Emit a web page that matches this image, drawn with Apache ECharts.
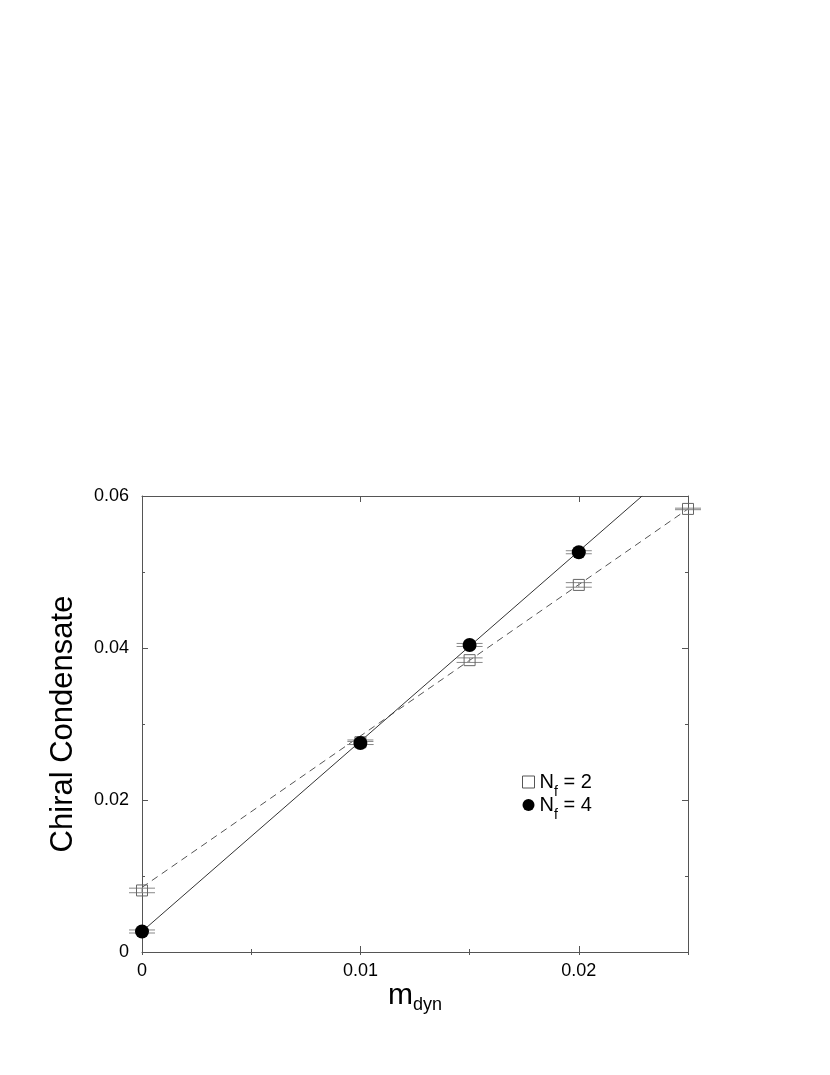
<!DOCTYPE html>
<html>
<head>
<meta charset="utf-8">
<script src="https://cdn.jsdelivr.net/npm/echarts@6/dist/echarts.min.js"></script>
<style>
  html, body { margin: 0; padding: 0; background: #fff; }
  #chart { width: 830px; height: 1075px; }
</style>
</head>
<body>
<div id="chart"></div>
<script>
// data
var x2 = [0, 0.01, 0.015, 0.02, 0.025];
var y2 = [0.0081, 0.0276, 0.0384, 0.0483, 0.0583];
var e2 = [0.0003, 0.0003, 0.0003, 0.0003, 0.0001];
var x4 = [0, 0.01, 0.015, 0.02];
var y4 = [0.0027, 0.0275, 0.0404, 0.0526];
var e4 = [0.0002, 0.0002, 0.0002, 0.0002];
// fit lines
var fit2X = [0, 0.025];
var fit2Y = [0.0085, 0.0583];
var fit4X = [0, 0.0229];
var fit4Y = [0.0027, 0.06];

var font = "'Liberation Sans', Arial, sans-serif";
var frame = '#555';

function pts(xs, ys) {
  return xs.map(function (x, i) { return [x, ys[i]]; });
}
function errPts(xs, ys, es) {
  return xs.map(function (x, i) { return [x, ys[i], es[i]]; });
}

// error bars: caps drawn through the library's scales
function errBar(params, api) {
  var x = api.value(0), y = api.value(1), e = api.value(2);
  var hi = api.coord([x, y + e]);
  var lo = api.coord([x, y - e]);
  var w = 13;
  var st = { stroke: '#888', lineWidth: 1 };
  return {
    type: 'group',
    children: [
      { type: 'line', shape: { x1: hi[0] - w, y1: hi[1], x2: hi[0] + w, y2: hi[1] }, style: st },
      { type: 'line', shape: { x1: lo[0] - w, y1: lo[1], x2: lo[0] + w, y2: lo[1] }, style: st },
      { type: 'line', shape: { x1: hi[0], y1: hi[1], x2: lo[0], y2: lo[1] }, style: st }
    ]
  };
}

var myChart = echarts.init(document.getElementById('chart'));

var xBase = {
  type: 'value', min: 0, max: 0.025, gridIndex: 0,
  axisLine: { show: true, onZero: false, lineStyle: { color: frame, width: 1 } },
  splitLine: { show: false }
};
var yBase = {
  type: 'value', min: 0, max: 0.06, interval: 0.02,
  axisLine: { show: true, onZero: false, lineStyle: { color: frame, width: 1 } },
  axisTick: { show: true, inside: true, length: 6, lineStyle: { color: frame } },
  minorTick: { show: true, splitNumber: 2, length: 3, lineStyle: { color: frame } },
  splitLine: { show: false }
};

var option = {
  animation: false,
  backgroundColor: '#fff',
  textStyle: { fontFamily: font },
  grid: { left: 142, right: 142, top: 496, bottom: 123 },
  xAxis: [
    Object.assign({}, xBase, {
      position: 'bottom', interval: 0.01,
      axisTick: { show: true, inside: true, length: 6, lineStyle: { color: frame } },
      axisLabel: {
        show: true, margin: 10, color: '#000', fontSize: 18, fontFamily: font,
        showMaxLabel: false,
        formatter: function (v) { return v === 0 ? '0' : String(+v.toFixed(3)); }
      },
      name: '{m|m}{d|dyn}',
      nameLocation: 'middle',
      nameGap: 28,
      nameTextStyle: {
        rich: {
          m: { fontSize: 30, fontFamily: font, color: '#000', lineHeight: 30 },
          d: { fontSize: 18, fontFamily: font, color: '#000', lineHeight: 0, height: 12, verticalAlign: 'bottom' }
        }
      }
    }),
    Object.assign({}, xBase, {
      position: 'top', interval: 0.01,
      axisTick: { show: true, inside: true, length: 6, lineStyle: { color: frame } },
      axisLabel: { show: false }
    }),
    // minor ticks every 0.005
    Object.assign({}, xBase, {
      position: 'bottom', interval: 0.005,
      axisLine: { show: false },
      axisTick: { show: true, inside: true, length: 3, lineStyle: { color: frame } },
      axisLabel: { show: false }
    }),
    Object.assign({}, xBase, {
      position: 'top', interval: 0.005,
      axisLine: { show: false },
      axisTick: { show: true, inside: true, length: 3, lineStyle: { color: frame } },
      axisLabel: { show: false }
    })
  ],
  yAxis: [
    Object.assign({}, yBase, {
      position: 'left',
      axisLabel: {
        show: true, margin: 13, color: '#000', fontSize: 18, fontFamily: font,
        formatter: function (v) { return v === 0 ? '0' : String(+v.toFixed(3)); }
      },
      name: 'Chiral Condensate',
      nameLocation: 'middle',
      nameGap: 63,
      nameTextStyle: { fontSize: 31, fontFamily: font, color: '#000' }
    }),
    Object.assign({}, yBase, {
      position: 'right',
      axisLabel: { show: false }
    })
  ],
  legend: {
    orient: 'vertical',
    left: 522,
    top: 772,
    padding: 0,
    itemWidth: 12,
    itemHeight: 12,
    itemGap: -4,
    textStyle: {
      color: '#000',
      rich: {
        n: { fontSize: 20, fontFamily: font, color: '#000', lineHeight: 24 },
        s: { fontSize: 14, fontFamily: font, color: '#000', lineHeight: 0, height: 4, verticalAlign: 'bottom' }
      }
    },
    formatter: function (name) {
      return name === 'Nf = 2' ? '{n|N}{s|f}{n| = 2}' : '{n|N}{s|f}{n| = 4}';
    },
    data: [
      { name: 'Nf = 2', icon: 'rect', itemStyle: { color: '#fff', borderColor: '#555', borderWidth: 1, opacity: 1 } },
      { name: 'Nf = 4', icon: 'circle', itemStyle: { color: '#000', borderWidth: 0, opacity: 1 } }
    ]
  },
  series: [
    {
      name: 'fit2', type: 'line', data: pts(fit2X, fit2Y), showSymbol: false, z: 1,
      lineStyle: { color: '#555', width: 1, type: [7, 5] }, silent: true
    },
    {
      name: 'fit4', type: 'line', data: pts(fit4X, fit4Y), showSymbol: false, z: 1,
      lineStyle: { color: '#333', width: 1 }, silent: true
    },
    { name: 'err2', type: 'custom', renderItem: errBar, data: errPts(x2, y2, e2), z: 2 },
    { name: 'err4', type: 'custom', renderItem: errBar, data: errPts(x4, y4, e4), z: 2 },
    {
      name: 'Nf = 2', type: 'scatter', data: pts(x2, y2), symbol: 'rect', symbolSize: 11, z: 3,
      itemStyle: { color: 'rgba(255,255,255,0)', borderColor: '#666', borderWidth: 1, opacity: 1 }
    },
    {
      name: 'Nf = 4', type: 'scatter', data: pts(x4, y4), symbol: 'circle', symbolSize: 14, z: 4,
      itemStyle: { color: '#000', opacity: 1 }
    }
  ]
};

myChart.setOption(option);
</script>
</body>
</html>
